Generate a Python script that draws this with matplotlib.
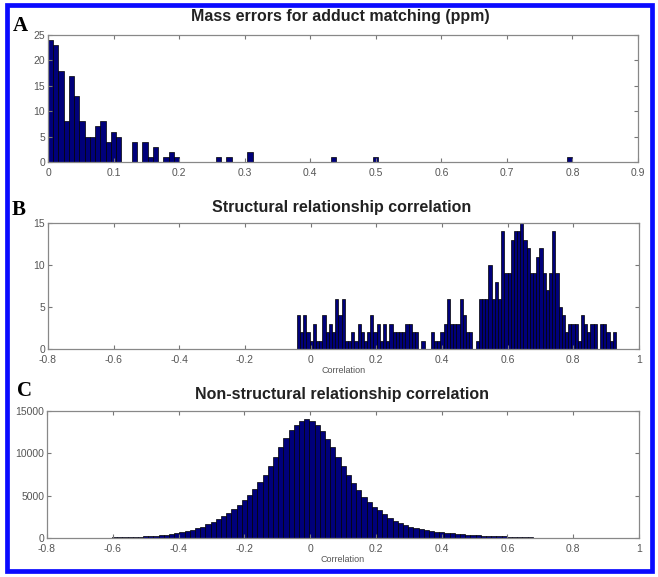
import numpy as np
import matplotlib
matplotlib.use('Agg')
import matplotlib.pyplot as plt
from matplotlib.patches import Rectangle

# Panel A: mass errors (ppm), 100 bins of width 0.008 starting at 0
a_start = 0.0
a_width = 0.008
a_counts = [0] * 100
a_counts[:14] = [24, 23, 18, 8, 17, 13, 8, 5, 5, 7, 8, 4, 6, 5]
a_counts[16] = 4
a_counts[18] = 4
a_counts[19] = 1
a_counts[20] = 3
a_counts[22] = 1
a_counts[23] = 2
a_counts[24] = 1
a_counts[32] = 1
a_counts[34] = 1
a_counts[38] = 2
a_counts[54] = 1
a_counts[62] = 1
a_counts[99] = 1

# Panel B: structural relationship correlation, 100 bins
b_start = -0.042
b_width = 0.00972
b_counts = [4, 2, 4, 2, 1, 3, 1, 1, 4, 2, 3, 2, 6, 4, 6, 1, 1, 2, 1, 3,
            2, 1, 2, 4, 2, 3, 1, 3, 1, 3, 2, 2, 2, 2, 3, 3, 2, 2, 0, 1,
            0, 0, 2, 1, 1, 2, 3, 6, 3, 3, 3, 6, 4, 2, 2, 0, 1, 6, 6, 6,
            10, 6, 8, 6, 14, 9, 9, 13, 14, 14, 15, 13, 12, 9, 9, 11, 12, 9, 7, 9,
            14, 9, 5, 4, 2, 3, 3, 3, 1, 4, 3, 2, 3, 3, 0, 3, 3, 2, 1, 2]

# Panel C: non-structural relationship correlation, 100 bins
c_start = -0.65
c_width = 0.0158
c_counts = [30, 40, 50, 60, 70, 90, 110, 130, 160, 190,
            230, 280, 340, 410, 490, 590, 700, 830, 980, 1150,
            1350, 1600, 1880, 2200, 2550, 2950, 3400, 3900, 4450, 5050,
            5800, 6600, 7500, 8500, 9600, 10800, 11800, 12700, 13300, 13800,
            14000, 13800, 13300, 12600, 11700, 10700, 9600, 8500, 7400, 6500,
            5700, 4900, 4300, 3700, 3250, 2800, 2400, 2050, 1750, 1500,
            1300, 1180, 1060, 950, 850, 760, 690, 620, 560, 500,
            450, 400, 360, 320, 290, 260, 230, 200, 180, 160,
            130, 100, 80, 60, 50, 40, 35, 30, 28, 25,
            22, 20, 18, 16, 14, 12, 10, 9, 8, 7]

a_xticks = [0, 0.1, 0.2, 0.3, 0.4, 0.5, 0.6, 0.7, 0.8, 0.9]
a_yticks = [0, 5, 10, 15, 20, 25]
bc_xticks = [-0.8, -0.6, -0.4, -0.2, 0, 0.2, 0.4, 0.6, 0.8, 1]
b_yticks = [0, 5, 10, 15]
c_yticks = [0, 5000, 10000, 15000]

plt.rcParams['font.family'] = ['Liberation Sans', 'DejaVu Sans']

W, H = 658, 577
fig = plt.figure(figsize=(W / 100, H / 100), dpi=100)

bar_color = '#00007a'
tick_gray = '#555555'


def px_axes(left, top, right, bottom):
    return fig.add_axes([left / W, 1 - bottom / H, (right - left) / W, (bottom - top) / H])


def style(ax, xlim, ylim, xticks, yticks):
    ax.set_xlim(*xlim)
    ax.set_ylim(*ylim)
    ax.set_xticks(xticks)
    ax.set_yticks(yticks)
    ax.set_xticklabels([f'{t:g}' for t in xticks])
    ax.set_yticklabels([f'{t:g}' for t in yticks])
    ax.tick_params(direction='in', top=True, right=True, length=3, width=0.8,
                   colors='#777777', labelcolor=tick_gray, labelsize=7.5)
    ax.tick_params(axis='x', pad=4)
    ax.tick_params(axis='y', pad=2)
    for s in ax.spines.values():
        s.set_color('#888888')
        s.set_linewidth(0.9)


def hist_bars(ax, start, width, counts):
    edges = start + width * np.arange(len(counts))
    ax.bar(edges, counts, width=width, align='edge', color=bar_color,
           edgecolor='black', linewidth=0.5)


axA = px_axes(48, 35, 638, 162)
hist_bars(axA, a_start, a_width, a_counts)
style(axA, (0, 0.9), (0, 25), a_xticks, a_yticks)

axB = px_axes(48, 223, 639, 349)
hist_bars(axB, b_start, b_width, b_counts)
style(axB, (-0.8, 1), (0, 15), bc_xticks, b_yticks)
axB.set_xlabel('Correlation', fontsize=6.5, color=tick_gray, labelpad=1)

axC = px_axes(47, 411, 639, 538)
hist_bars(axC, c_start, c_width, c_counts)
style(axC, (-0.8, 1), (0, 15000), bc_xticks, c_yticks)
axC.set_xlabel('Correlation', fontsize=6.5, color=tick_gray, labelpad=1)

# blue frame
fig.patches.append(Rectangle((6.5 / W, 6.5 / H), 645 / W, 566 / H, transform=fig.transFigure,
                             fill=False, edgecolor='#0a0aff', linewidth=3.4))

# titles
fig.text(340 / W, 1 - 16 / H, 'Mass errors for adduct matching (ppm)', ha='center',
         va='center', fontsize=11.5, fontweight='bold', color='#222222')
fig.text(342 / W, 1 - 207 / H, 'Structural relationship correlation', ha='center',
         va='center', fontsize=11.5, fontweight='bold', color='#222222')
fig.text(342 / W, 1 - 395 / H, 'Non-structural relationship correlation', ha='center',
         va='center', fontsize=11.5, fontweight='bold', color='#222222')

# panel letters
for lab, x, y in [('A', 20, 26), ('B', 19, 210), ('C', 25, 391)]:
    fig.text(x / W, 1 - y / H, lab, ha='center', va='center', fontsize=15,
             fontweight='bold', family='Liberation Serif', color='black')

fig.savefig('out.png', dpi=100)
